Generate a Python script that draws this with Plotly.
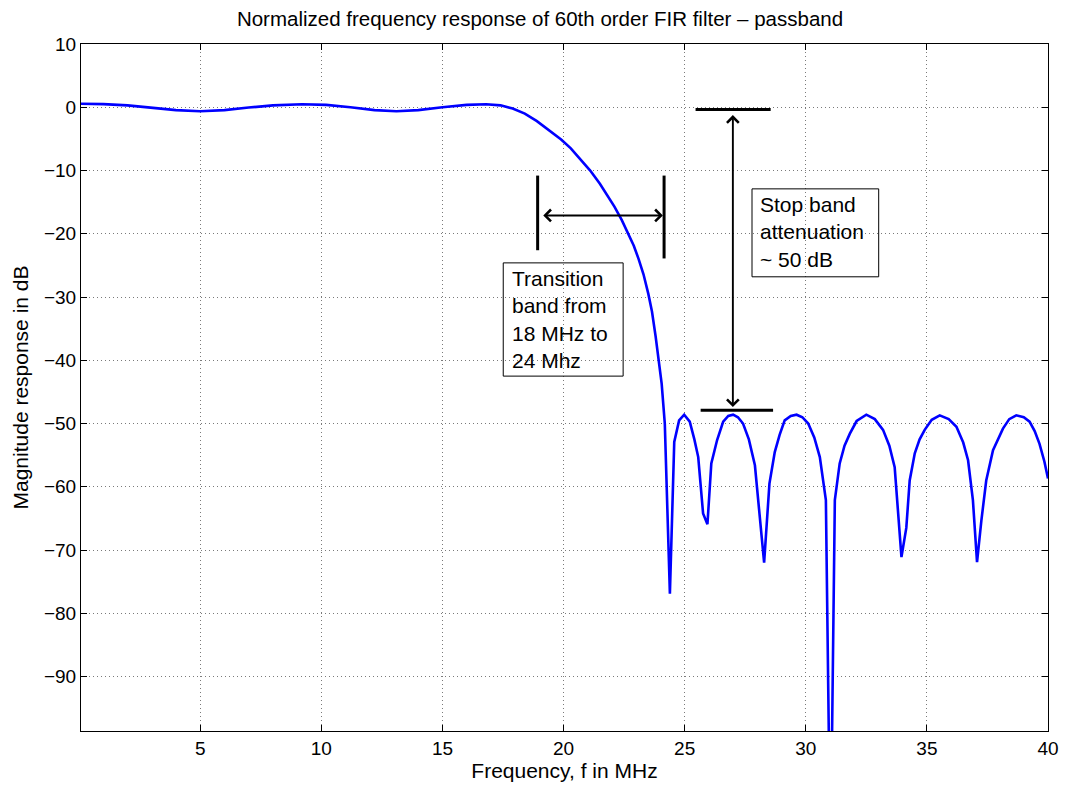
import plotly.graph_objects as go

# ---- data ----
freq_mhz = [0.078, 1.0, 2.0, 3.0, 4.0, 5.0, 6.0, 7.0, 8.0, 9.2, 10.2, 11.2, 12.2, 13.1, 14.0,
            15.0, 16.0, 16.8, 17.4, 17.9, 18.4, 18.9, 19.4, 19.9, 20.3, 20.7, 21.1, 21.5,
            21.8, 22.1, 22.4, 22.7, 22.9, 23.1, 23.3, 23.5, 23.65, 23.8, 23.95, 24.05,
            24.18, 24.39, 24.57, 24.77, 24.98, 25.21, 25.4, 25.56, 25.76, 25.94, 26.1,
            26.34, 26.59, 26.8, 27.0, 27.2, 27.41, 27.65, 27.9, 28.28, 28.5, 28.72, 28.92,
            29.13, 29.38, 29.62, 29.86, 30.1, 30.35, 30.58, 30.83, 31.02, 31.2, 31.4, 31.6,
            31.82, 32.1, 32.5, 32.85, 33.19, 33.45, 33.67, 33.95, 34.15, 34.29, 34.5, 34.7,
            34.91, 35.2, 35.53, 35.9, 36.22, 36.5, 36.7, 36.9, 37.07, 37.25, 37.45, 37.73,
            38.14, 38.4, 38.69, 39.0, 39.24, 39.45, 39.65, 39.85, 40.0]
mag_db = [0.55, 0.5, 0.3, -0.05, -0.45, -0.62, -0.45, -0.05, 0.3, 0.48, 0.38, 0.0, -0.45, -0.62, -0.45,
          0.0, 0.38, 0.48, 0.3, -0.2, -1.0, -2.2, -3.6, -5.1, -6.5, -8.2, -10.0, -12.1,
          -13.8, -15.7, -17.8, -20.2, -21.9, -24.0, -26.4, -29.5, -32.3, -36.2, -40.5, -43.7,
          -50.0, -76.9, -52.9, -49.5, -48.6, -49.7, -52.5, -55.3, -64.2, -65.9, -56.3,
          -52.6, -49.7, -48.8, -48.6, -49.0, -50.0, -52.5, -56.6, -72.0, -59.5, -54.5, -51.8,
          -49.5, -48.8, -48.6, -49.0, -50.0, -52.2, -55.3, -62.1, -120.0, -62.1, -56.3, -53.5,
          -51.6, -49.6, -48.6, -49.3, -51.0, -53.5, -56.9, -71.1, -66.5, -59.0, -54.7, -52.5,
          -51.0, -49.4, -48.7, -49.3, -50.5, -53.0, -55.8, -62.1, -71.9, -65.3, -59.0, -54.2,
          -50.8, -49.3, -48.7, -49.0, -49.7, -51.2, -53.2, -56.0, -58.7]

x_ticks = [5, 10, 15, 20, 25, 30, 35, 40]
y_ticks = [-90, -80, -70, -60, -50, -40, -30, -20, -10, 0, 10]
y_ticktext = [str(v).replace("-", "\u2212") for v in y_ticks]

title_text = "Normalized frequency response of 60th order FIR filter \u2013 passband"
x_title = "Frequency, f in MHz"
y_title = "Magnitude response in dB"

transition_text = "Transition<br>band from<br>18 MHz to<br>24 Mhz"
stopband_text = "Stop band<br>attenuation<br>~ 50 dB"

# annotation geometry (data units)
trans_bars = [(18.93, -10.8, 18.93, -22.6), (24.15, -10.8, 24.15, -23.9)]
trans_arrow = (19.1, 24.1, -17.1)
stop_bars = [(25.45, -0.35, 28.55, -0.35), (25.66, -47.9, 28.65, -47.9)]
stop_arrow = (26.99, -1.0, -47.4)
trans_box = (17.51, -24.6, 22.46, -42.5)
stop_box = (27.78, -12.9, 33.01, -26.8)
text_inset = (0.3, 0.5)

FONT = "Liberation Sans, Arial, Helvetica, sans-serif"
TXT = 21

fig = go.Figure()
fig.add_trace(go.Scatter(x=freq_mhz, y=mag_db, mode="lines",
                         line=dict(color="#0000ff", width=2.6), hoverinfo="skip",
                         showlegend=False))

for (x0, y0, x1, y1) in trans_bars + stop_bars:
    fig.add_shape(type="line", xref="x", yref="y", x0=x0, y0=y0, x1=x1, y1=y1,
                  line=dict(color="black", width=3))

for (x0, y0, x1, y1) in (trans_box, stop_box):
    fig.add_shape(type="rect", xref="x", yref="y", x0=x0, y0=y0, x1=x1, y1=y1,
                  line=dict(color="black", width=1), fillcolor="rgba(255,255,255,0)")

# transition double arrow
fig.add_annotation(x=trans_arrow[1], y=trans_arrow[2], ax=trans_arrow[0], ay=trans_arrow[2],
                   xref="x", yref="y", axref="x", ayref="y", text="", showarrow=True,
                   arrowhead=4, startarrowhead=4, arrowside="end+start", arrowsize=1.2,
                   startarrowsize=1.2, arrowwidth=1.9, arrowcolor="black")
# stop band double arrow
fig.add_annotation(x=stop_arrow[0], y=stop_arrow[2], ax=stop_arrow[0], ay=stop_arrow[1],
                   xref="x", yref="y", axref="x", ayref="y", text="", showarrow=True,
                   arrowhead=4, startarrowhead=4, arrowside="end+start", arrowsize=1.2,
                   startarrowsize=1.2, arrowwidth=1.9, arrowcolor="black")

for box, txt in ((trans_box, transition_text), (stop_box, stopband_text)):
    fig.add_annotation(x=box[0] + text_inset[0], y=box[1] - text_inset[1], xref="x", yref="y",
                       xanchor="left", yanchor="top", text=txt, showarrow=False, align="left",
                       font=dict(family=FONT, size=TXT, color="black"), borderpad=0)

axis_common = dict(showline=True, linecolor="black", linewidth=1, mirror="ticks",
                   ticks="inside", ticklen=6, tickcolor="black", showgrid=True,
                   gridcolor="#7a7a7a", gridwidth=1, griddash="1px,3px", zeroline=False,
                   automargin=False,
                   tickfont=dict(family=FONT, size=19, color="black"))

# page body has an 8px margin: figure occupies 8..1072 x 8..785 of the window
fig.update_layout(
    width=1064, height=777,
    margin=dict(l=73, r=24, t=36, b=54),
    paper_bgcolor="white", plot_bgcolor="white",
    title=dict(text=title_text, x=0.5, xanchor="center", y=1 - 11 / 777, yanchor="middle",
               font=dict(family=FONT, size=20.5, color="black")),
    xaxis=dict(range=[0.078, 40], tickvals=x_ticks, title=dict(text=x_title, standoff=5,
               font=dict(family=FONT, size=TXT, color="black")), **axis_common),
    yaxis=dict(range=[-98.6, 10], tickvals=y_ticks, ticktext=y_ticktext,
               title=dict(text=y_title, standoff=9, font=dict(family=FONT, size=TXT, color="black")),
               **axis_common),
)

fig.write_html("out.html")
